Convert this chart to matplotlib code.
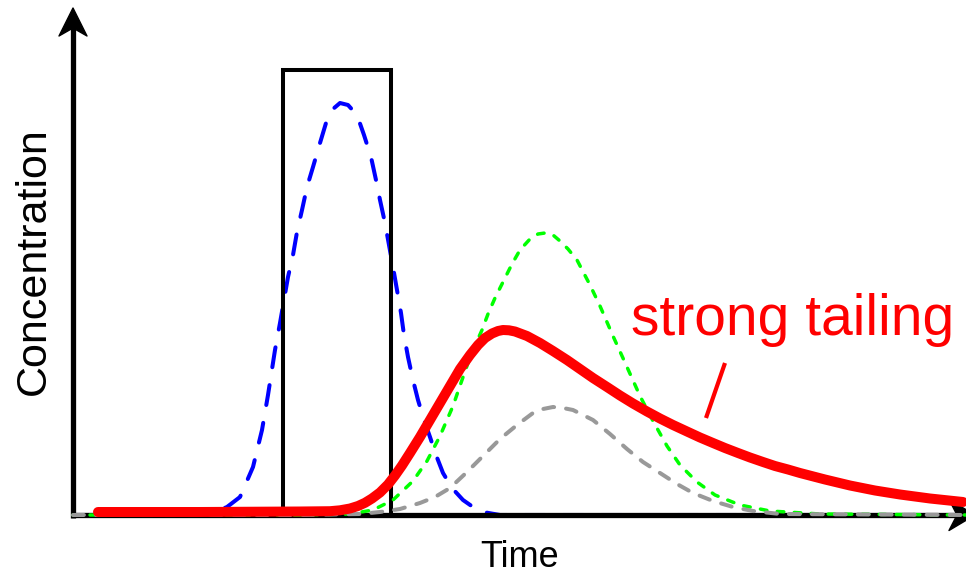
import matplotlib
matplotlib.use("Agg")
import matplotlib.pyplot as plt
from matplotlib.patches import Polygon
from matplotlib.transforms import ScaledTranslation

plt.rcParams['font.family'] = ['Liberation Sans', 'DejaVu Sans']

# Injected pulse (rectangular input)
pulse_t = [0.0, 2.10, 2.10, 3.18, 3.18]
pulse_c = [0.0, 0.0, 4.45, 4.45, 0.0]

# Sharp, early breakthrough (blue dashed)
blue_t = [0.00, 1.27, 1.42, 1.54, 1.67, 1.80, 1.89, 1.95, 2.02, 2.07, 2.15, 2.20,
          2.24, 2.29, 2.34, 2.40, 2.47, 2.53, 2.60, 2.67, 2.75, 2.84, 2.91, 2.98,
          3.03, 3.07, 3.12, 3.16, 3.20, 3.24, 3.28, 3.31, 3.35, 3.40, 3.45, 3.51,
          3.57, 3.63, 3.70, 3.79, 3.90, 4.00, 4.10, 4.27, 8.93]
blue_c = [0.00, 0.00, 0.03, 0.08, 0.18, 0.48, 0.85, 1.20, 1.65, 1.92, 2.38, 2.60,
          2.83, 3.05, 3.28, 3.48, 3.72, 3.92, 4.06, 4.12, 4.10, 4.00, 3.80, 3.58,
          3.35, 3.15, 2.92, 2.70, 2.48, 2.25, 2.02, 1.80, 1.58, 1.35, 1.15, 0.95,
          0.78, 0.60, 0.42, 0.27, 0.15, 0.08, 0.03, 0.00, 0.00]

# Retarded symmetric breakthrough (green dashed)
green_t = [0.00, 2.27, 2.77, 3.00, 3.20, 3.40, 3.54, 3.67, 3.80, 3.89, 3.95, 4.00,
           4.09, 4.15, 4.22, 4.30, 4.39, 4.47, 4.57, 4.65, 4.72, 4.80, 4.87, 4.95,
           5.04, 5.17, 5.27, 5.40, 5.54, 5.67, 5.80, 5.94, 6.07, 6.24, 6.42, 6.67,
           6.97, 7.47, 8.93]
green_c = [0.00, 0.00, 0.01, 0.05, 0.15, 0.34, 0.54, 0.79, 1.09, 1.35, 1.52, 1.65,
           1.85, 2.01, 2.17, 2.33, 2.51, 2.65, 2.76, 2.81, 2.82, 2.80, 2.74, 2.66,
           2.55, 2.30, 2.09, 1.79, 1.48, 1.19, 0.94, 0.69, 0.50, 0.33, 0.20, 0.10,
           0.04, 0.01, 0.00]

# Attenuated breakthrough (grey dashed)
grey_t = [0.00, 2.27, 2.87, 3.07, 3.27, 3.47, 3.62, 3.77, 3.94, 4.10, 4.27, 4.44,
          4.60, 4.70, 4.80, 4.90, 5.00, 5.20, 5.37, 5.54, 5.70, 5.87, 6.04, 6.20,
          6.40, 6.60, 6.80, 7.07, 8.93]
grey_c = [0.00, 0.00, 0.01, 0.03, 0.06, 0.12, 0.18, 0.27, 0.43, 0.59, 0.76, 0.90,
          1.02, 1.06, 1.08, 1.07, 1.05, 0.95, 0.81, 0.66, 0.53, 0.42, 0.31, 0.22,
          0.14, 0.08, 0.04, 0.01, 0.00]

# Breakthrough with strong tailing (red solid)
red_t = [0.25, 1.27, 2.27, 2.57, 2.67, 2.77, 2.85, 2.92, 2.99, 3.07, 3.15, 3.22,
         3.29, 3.37, 3.47, 3.57, 3.67, 3.77, 3.87, 3.97, 4.05, 4.12, 4.19, 4.25,
         4.30, 4.36, 4.42, 4.54, 4.67, 4.80, 4.94, 5.07, 5.20, 5.34, 5.47, 5.60,
         5.74, 5.87, 6.00, 6.14, 6.27, 6.40, 6.52, 6.65, 6.77, 6.90, 7.02, 7.15,
         7.27, 7.52, 7.77, 8.02, 8.27, 8.57, 8.90]
red_c = [0.030, 0.030, 0.035, 0.038, 0.047, 0.065, 0.090, 0.122, 0.165, 0.225,
         0.305, 0.395, 0.495, 0.620, 0.780, 0.950, 1.120, 1.290, 1.460, 1.600,
         1.700, 1.770, 1.815, 1.840, 1.850, 1.847, 1.835, 1.790, 1.720, 1.640,
         1.550, 1.460, 1.370, 1.280, 1.195, 1.115, 1.035, 0.965, 0.900, 0.835,
         0.775, 0.720, 0.670, 0.620, 0.575, 0.530, 0.490, 0.455, 0.420, 0.355,
         0.295, 0.245, 0.205, 0.165, 0.130]

label_text = "strong tailing"
label_pos = (5.58, 1.80)
pointer_t = [6.52, 6.33]
pointer_c = [1.52, 0.97]

fig = plt.figure(figsize=(9.66, 5.74), dpi=100)
ax = fig.add_axes([0, 0, 1, 1])
ax.set_xlim(-0.73, 8.93)
ax.set_ylim(-0.59, 5.15)
ax.axis('off')

# Axes with arrow heads
ax.plot([-0.025, 9.0], [0, 0], color='black', lw=3.8, solid_capstyle='butt',
        clip_on=False, zorder=2)
ax.plot([0, 0], [-0.025, 4.95], color='black', lw=3.8, solid_capstyle='butt',
        clip_on=False, zorder=2)


def arrow_head(x, y, verts):
    trans = fig.dpi_scale_trans + ScaledTranslation(x, y, ax.transData)
    ax.add_patch(Polygon(verts, closed=True, facecolor='black', edgecolor='black',
                         lw=1.0, joinstyle='round', transform=trans,
                         clip_on=False, zorder=2))


arrow_head(0, 5.07, [(0, 0), (-0.14, -0.28), (0, -0.20), (0.14, -0.28)])
arrow_head(9.02, 0, [(0, 0), (-0.26, 0.155), (-0.18, 0), (-0.26, -0.155)])

ax.plot(pulse_t, pulse_c, color='black', lw=2.9, solid_joinstyle='miter',
        solid_capstyle='butt', zorder=3)

ax.plot(blue_t, blue_c, color='#0000ff', lw=2.9, dashes=(5.0, 4.5),
        dash_capstyle='round', zorder=1.9)
ax.plot(green_t, green_c, color='#00ff00', lw=2.5, dashes=(1.9, 3.0),
        dash_capstyle='round', zorder=4)
ax.plot(grey_t, grey_c, color='#999999', lw=2.9, dashes=(2.7, 3.0),
        dash_capstyle='round', zorder=4.5)
ax.plot(red_t, red_c, color='#ff0000', lw=7.2, solid_capstyle='round',
        solid_joinstyle='round', zorder=5)

ax.text(label_pos[0], label_pos[1], label_text, color='#ff0000', fontsize=41,
        ha='left', va='baseline')
ax.plot(pointer_t, pointer_c, color='#ff0000', lw=3.0, solid_capstyle='butt')

ax.text(4.47, -0.52, "Time", fontsize=26, ha='center', va='baseline')
ax.text(-0.39, 2.54, "Concentration", fontsize=31, rotation=90,
        ha='center', va='center')

fig.savefig("out.png", dpi=100)
